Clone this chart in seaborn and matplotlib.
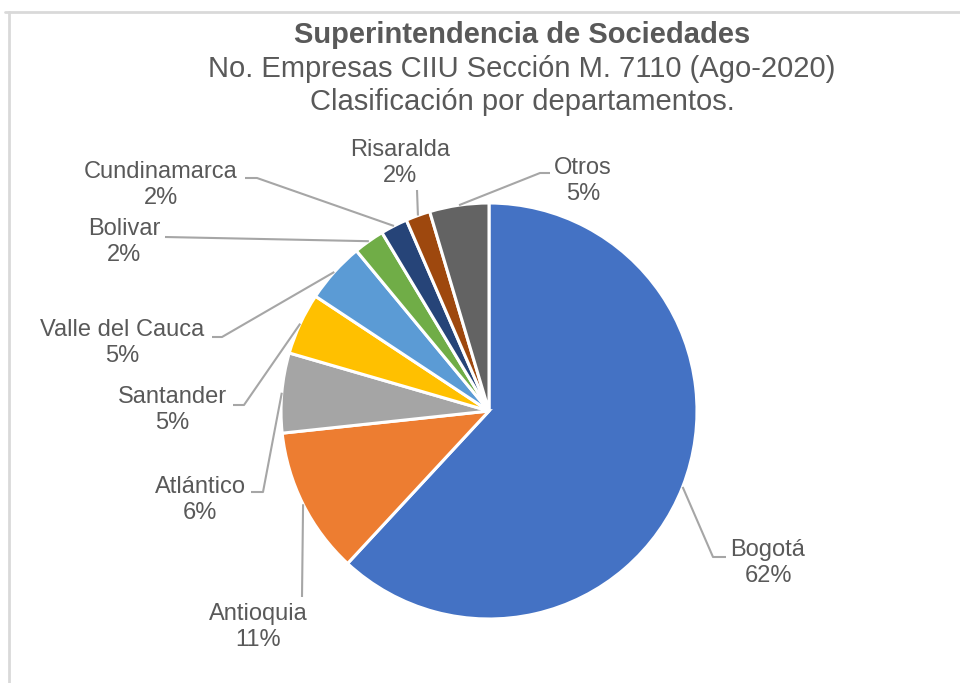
import numpy as np
import matplotlib
matplotlib.use("Agg")
import matplotlib.pyplot as plt
from matplotlib.lines import Line2D
import seaborn as sns

# -------------------------
# DATA
# -------------------------
departamentos = ["Bogotá", "Antioquia", "Atlántico", "Santander", "Valle del Cauca",
                 "Bolivar", "Cundinamarca", "Risaralda", "Otros"]
porcentajes = [61.9, 11.4, 6.2, 4.8, 4.7, 2.4, 2.1, 1.9, 4.6]
colores = ["#4472C4", "#ED7D31", "#A5A5A5", "#FFC000", "#5B9BD5",
           "#70AD47", "#264478", "#9E480E", "#636363"]

titulo = "Superintendencia de Sociedades"
subtitulo_1 = "No. Empresas CIIU Sección M. 7110 (Ago-2020)"
subtitulo_2 = "Clasificación por departamentos."

# -------------------------
# LAYOUT (pixel positions of labels, like the Excel original)
# -------------------------
W, H = 960, 683
CX, CY, R_PX = 489, 411, 208

# text block centre, leader end point, shoulder length (px)
label_pos = [(768, 563), (258, 627), (200, 500), (172, 410), (122, 343),
             (124, 242), (161, 185), (400, 163), (583, 181)]
leader_end = [(726, 557), (302, 597), (251, 492), (233, 405), (212, 337),
              (165, 237), (245, 178), (417, 190), (550, 173)]
shoulder = [13, 0, 12, 11, 10, 0, 12, 0, 10]

TEXT = "#595959"
LINE = "#A6A6A6"


def to_data(px, py):
    return (px - CX) / R_PX, (CY - py) / R_PX


sns.set_style("white")
plt.rcParams["font.family"] = ["Liberation Sans", "DejaVu Sans"]

fig = plt.figure(figsize=(W / 100, H / 100), dpi=100)
ax = fig.add_axes([0, 0, 1, 1])

wedges, _ = ax.pie(
    porcentajes,
    colors=sns.color_palette(colores),
    startangle=90,
    counterclock=False,
    radius=1.0,
    wedgeprops=dict(edgecolor="white", linewidth=2.2),
)
ax.set_xlim(-CX / R_PX, (W - CX) / R_PX)
ax.set_ylim((CY - H) / R_PX, CY / R_PX)
ax.set_aspect("auto")
ax.axis("off")

total = sum(porcentajes)
for w, name, val, lp, le, sh in zip(wedges, departamentos, porcentajes,
                                     label_pos, leader_end, shoulder):
    mid = np.deg2rad((w.theta1 + w.theta2) / 2)
    x0, y0 = np.cos(mid), np.sin(mid)
    ex, ey = to_data(*le)
    side = 1 if ex > 0 else -1
    kx = ex - side * sh / R_PX
    ax.plot([x0, kx, ex], [y0, ey, ey], color=LINE, lw=1.5,
            solid_capstyle="butt", zorder=1)
    tx, ty = to_data(*lp)
    ax.text(tx, ty, f"{name}\n{round(val / total * 100):.0f}%",
            ha="center", va="center", fontsize=17, color=TEXT,
            linespacing=1.25)

# titles
fig.text(522 / W, 1 - 35 / H, titulo, ha="center", va="center",
         fontsize=21, fontweight="bold", color=TEXT)
fig.text(522 / W, 1 - 69 / H, subtitulo_1, ha="center", va="center",
         fontsize=21, color=TEXT)
fig.text(522 / W, 1 - 102 / H, subtitulo_2, ha="center", va="center",
         fontsize=21, color=TEXT)

# chart border (top and left edges visible)
fig.add_artist(Line2D([9 / W, 9 / W], [0, 1 - 12 / H], color="#D9D9D9", lw=2))
fig.add_artist(Line2D([5 / W, 1], [1 - 12 / H, 1 - 12 / H], color="#D9D9D9", lw=2))

plt.savefig("out.png", dpi=100)
plt.close()
